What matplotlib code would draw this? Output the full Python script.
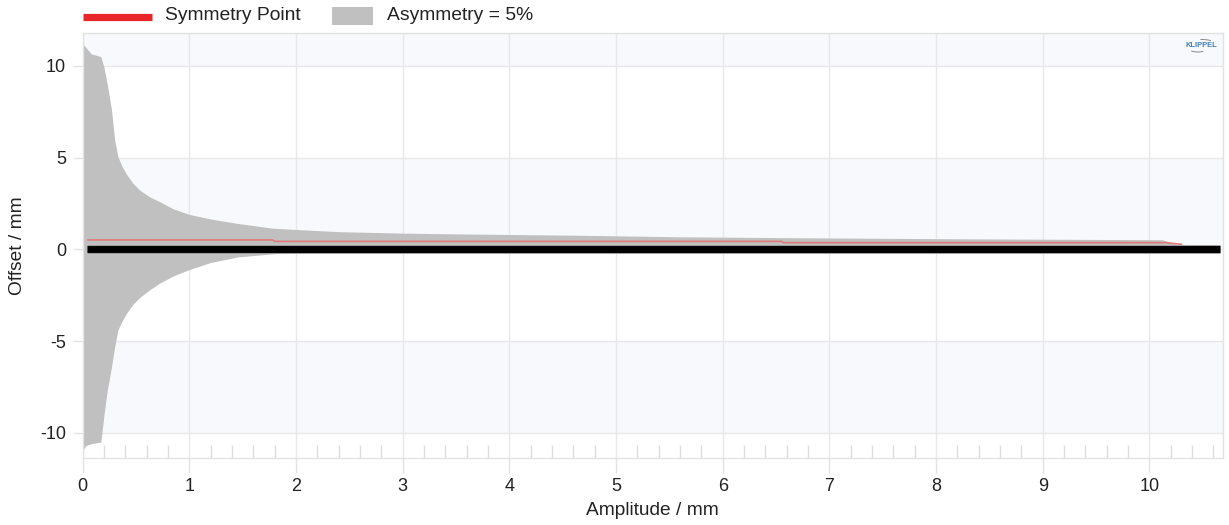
import matplotlib
matplotlib.use("Agg")
import matplotlib.pyplot as plt
from matplotlib.lines import Line2D
from matplotlib.patches import Rectangle, Arc
import matplotlib.patheffects as pe

plt.rcParams['font.family'] = ['Liberation Sans', 'DejaVu Sans']

# ---- data ----
amplitude = [0.0, 0.03, 0.08, 0.17, 0.20, 0.23, 0.27, 0.30, 0.33, 0.37, 0.41, 0.47,
             0.54, 0.63, 0.72, 0.85, 1.0, 1.2, 1.45, 1.78, 2.0, 2.4, 3.0, 3.5, 4.7,
             5.6, 6.9, 8.3, 10.12, 10.37]
asym_upper = [11.2, 11.0, 10.65, 10.5, 9.9, 9.0, 7.6, 5.95, 5.05, 4.5, 4.1, 3.6,
              3.2, 2.85, 2.6, 2.2, 1.9, 1.65, 1.41, 1.15, 1.08, 0.96, 0.88, 0.84, 0.76,
              0.68, 0.62, 0.57, 0.52, 0.05]
asym_lower = [-10.95, -10.7, -10.6, -10.5, -9.0, -7.7, -6.4, -5.3, -4.4, -3.9, -3.5, -3.0,
              -2.6, -2.2, -1.85, -1.45, -1.1, -0.72, -0.42, -0.25, -0.15, 0.0, 0.05, 0.08, 0.1,
              0.12, 0.12, 0.12, 0.12, 0.05]

sym_amplitude = [0.05, 1.78, 1.80, 6.55, 6.57, 10.16, 10.30]
sym_point = [0.51, 0.51, 0.43, 0.43, 0.36, 0.36, 0.27]

base_amplitude = [0.04, 10.66]
base_offset = [0.0, 0.0]

x_ticks = [0, 1, 2, 3, 4, 5, 6, 7, 8, 9, 10]
y_ticks = [-10, -5, 0, 5, 10]
y_tick_labels = ['-10', '-5', '0', '5', '10']

legend_labels = ['Symmetry Point', 'Asymmetry = 5%']

# ---- figure ----
W, H = 1229, 525
fig = plt.figure(figsize=(W / 100, H / 100), dpi=100)
L, R, T, B = 82.7, 1223, 33.3, 458.3
ax = fig.add_axes([L / W, 1 - B / H, (R - L) / W, (B - T) / H])

xmin, xmax = 0, 10.69
ymin, ymax = -11.39, 11.77
ax.set_xlim(xmin, xmax)
ax.set_ylim(ymin, ymax)

band = '#f8f9fc'
for lo, hi in [(10, ymax), (0, 5), (-10, -5)]:
    ax.axhspan(lo, hi, color=band, lw=0, zorder=0)

grid_c = '#e8e8e8'
for xt in x_ticks:
    ax.axvline(xt, color=grid_c, lw=1, zorder=0.5)
for yt in y_ticks:
    ax.axhline(yt, color=grid_c, lw=1, zorder=0.5)

ax.fill_between(amplitude, asym_lower, asym_upper, color='#c0c0c0', lw=0, zorder=2)

ax.plot(sym_amplitude, sym_point, color='#e07a7a', lw=1.2, zorder=3)

ax.plot(base_amplitude, base_offset, color='black', lw=5.0, solid_capstyle='butt', zorder=4,
        path_effects=[pe.Stroke(linewidth=6.4, foreground='#9a9a9a'), pe.Normal()])

for s in ax.spines.values():
    s.set_color('#e2e2e2')
    s.set_linewidth(1)

ax.set_xticks(x_ticks)
ax.set_xticklabels([str(v) for v in x_ticks])
ax.set_xticks([i * 0.2 for i in range(54) if i % 5 != 0], minor=True)
ax.tick_params(axis='x', which='major', direction='out', length=11, width=1, color='#e2e2e2',
               pad=3, labelsize=13, labelcolor='#222222')
ax.tick_params(axis='x', which='minor', direction='in', length=9.5, width=1, color='#dcdcdc')
ax.set_yticks(y_ticks)
ax.set_yticklabels(y_tick_labels)
ax.tick_params(axis='y', which='major', direction='out', length=7, width=1, color='#e2e2e2',
               pad=5, labelsize=13, labelcolor='#222222')

ax.set_xlabel('Amplitude / mm', fontsize=13.8, color='#222222')
ax.xaxis.label.set_va('center')
ax.xaxis.set_label_coords(0.4995, -0.122)
ax.set_ylabel('Offset / mm', fontsize=13.8, color='#222222')
ax.yaxis.label.set_va('center')
ax.yaxis.set_label_coords(-0.0576, 0.5)

# ---- legend (top) ----
def fx(px):
    return px / W

def fy(py):
    return 1 - py / H

fig.add_artist(Line2D([fx(83), fx(152)], [fy(16.5), fy(16.5)], color='#e8262a', lw=5.2,
                      solid_capstyle='butt'))
fig.text(fx(165), fy(16), legend_labels[0], fontsize=13.9, va='center', ha='left', color='#222222')
fig.add_artist(Rectangle((fx(332), fy(24.5)), fx(41), 18 / H, facecolor='#c0c0c0', lw=0))
fig.text(fx(387), fy(16), legend_labels[1], fontsize=13.9, va='center', ha='left', color='#222222')

# ---- small logo ----
fig.text(fx(1201), fy(45.5), 'KLIPPEL', fontsize=5.4, fontweight='bold', color='#3f7fb8',
         ha='center', va='center')
fig.add_artist(Arc((12.02, (H - 44) / 100), 0.26, 0.09, theta1=20, theta2=110,
                   transform=fig.dpi_scale_trans, color='#8a8a8a', lw=0.7))
fig.add_artist(Arc((11.98, (H - 47) / 100), 0.22, 0.10, theta1=210, theta2=320,
                   transform=fig.dpi_scale_trans, color='#8a8a8a', lw=0.7))

fig.savefig('out.png', dpi=100, facecolor='white')
